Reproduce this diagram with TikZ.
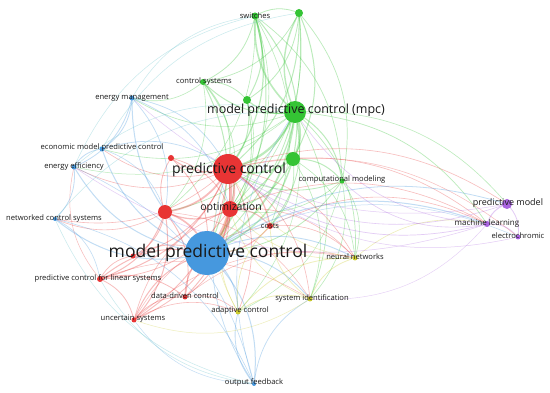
\documentclass[tikz,border=0pt]{standalone}
\usepackage{fontspec}
\setmainfont{Open Sans}
\usetikzlibrary{backgrounds}
\definecolor{cred}{RGB}{232,52,52}
\definecolor{cgreen}{RGB}{52,196,52}
\definecolor{cblue}{RGB}{70,152,222}
\definecolor{cyel}{RGB}{205,205,50}
\definecolor{cpur}{RGB}{170,100,225}
\definecolor{cteal}{RGB}{90,190,200}
\definecolor{ctext}{RGB}{25,25,25}
\begin{document}
\begin{tikzpicture}[x=1pt,y=-1pt,
  bub/.style={circle,inner sep=0pt,draw=none,minimum size=#1pt},
  tlab/.style={inner sep=0pt,text=ctext,font=\fontsize{#1}{#1}\selectfont},
  edg/.style={line width=0.7pt,opacity=0.33}]
\useasboundingbox (0,0) rectangle (550,393);
% nodes
\node[bub=44,fill=cblue] (mpcB) at (207,253) {};
\node[bub=30,fill=cred] (pc) at (228,169) {};
\node[bub=22,fill=cgreen] (mpcG) at (295,112) {};
\node[bub=14,fill=cgreen] (g2) at (293,159) {};
\node[bub=8,fill=cgreen] (g3) at (247,100) {};
\node[bub=7,fill=cgreen] (sw) at (255,16) {};
\node[bub=8,fill=cgreen] (g4) at (299,13) {};
\node[bub=6,fill=cgreen] (cs) at (203,82) {};
\node[bub=5,fill=cblue] (em) at (132,98) {};
\node[bub=5,fill=cblue] (empc) at (102,149) {};
\node[bub=5,fill=cblue] (ee) at (74,167) {};
\node[bub=6,fill=cred] (r1) at (171,158) {};
\node[bub=5,fill=cgreen] (cm) at (342,181) {};
\node[bub=16,fill=cred] (opt) at (230,209) {};
\node[bub=14,fill=cred] (r2) at (165,212) {};
\node[bub=6,fill=cred] (costs) at (270,226) {};
\node[bub=4,fill=cblue] (ncs) at (55,219) {};
\node[bub=6,fill=cred] (pcls) at (100,279) {};
\node[bub=5,fill=cred] (r3) at (133,256) {};
\node[bub=5,fill=cred] (ddc) at (185,297) {};
\node[bub=5,fill=cred] (us) at (134,320) {};
\node[bub=5,fill=cyel] (ac) at (238,312) {};
\node[bub=4,fill=cblue] (of) at (254,384) {};
\node[bub=5,fill=cyel] (si) at (310,299) {};
\node[bub=5,fill=cyel] (nn) at (355,258) {};
\node[bub=10,fill=cpur] (pm) at (507,204) {};
\node[bub=6,fill=cpur] (ml) at (487,224) {};
\node[bub=5,fill=cpur] (ec) at (518,237) {};
% edges
\begin{pgfonlayer}{background}
\fill[white] (0,0) rectangle (550,393);
\foreach \s/\t/\c/\w in {
 mpcG/sw/cgreen/1.6, mpcG/g4/cgreen/1.4, mpcG/cs/cgreen/1, mpcG/g3/cgreen/1.2, mpcG/g2/cgreen/2,
 mpcG/cm/cgreen/1, mpcG/pc/cgreen/2.2, mpcG/mpcB/cgreen/1.8, mpcG/opt/cgreen/1.2, mpcG/costs/cgreen/0.8,
 mpcG/nn/cgreen/0.7, mpcG/si/cgreen/0.7, mpcG/ml/cgreen/0.7, mpcG/pm/cgreen/0.6, mpcG/em/cgreen/0.6,
 mpcG/empc/cgreen/0.6, mpcG/ee/cgreen/0.5, mpcG/r2/cgreen/0.7, mpcG/ac/cgreen/0.5,
 sw/g4/cgreen/0.8, sw/cs/cgreen/0.8, sw/g3/cgreen/1, sw/g2/cgreen/1, sw/pc/cgreen/1.2,
 sw/cm/cgreen/0.7, sw/mpcB/cgreen/1, sw/costs/cgreen/0.6, sw/opt/cgreen/0.6, sw/r2/cgreen/0.6,
 g4/g3/cgreen/0.8, g4/g2/cgreen/1, g4/cm/cgreen/0.7, g4/cs/cgreen/0.7, g4/pc/cgreen/1, g4/mpcB/cgreen/0.8, g4/opt/cgreen/0.6,
 g2/pc/cgreen/1.6, g2/cm/cgreen/1, g2/mpcB/cgreen/1.4, g2/opt/cgreen/1, g2/costs/cgreen/0.8, g2/si/cgreen/0.6, g2/nn/cgreen/0.6,
 cs/pc/cgreen/1, cs/mpcB/cgreen/1, cs/g3/cgreen/0.8, cs/em/cgreen/0.6, cs/opt/cgreen/0.6, cs/r2/cgreen/0.6,
 g3/pc/cgreen/1, g3/mpcB/cgreen/0.8, g3/opt/cgreen/0.6,
 cm/mpcB/cgreen/0.8, cm/nn/cgreen/0.6, cm/si/cgreen/0.6, cm/opt/cgreen/0.6, cm/pc/cgreen/0.8, cm/ac/cgreen/0.5,
 pc/mpcB/cred/3, pc/opt/cred/2, pc/r2/cred/1.8, pc/r1/cred/1, pc/costs/cred/1.2, pc/pcls/cred/1,
 pc/r3/cred/0.8, pc/ddc/cred/0.9, pc/us/cred/0.9, pc/ac/cred/0.7, pc/empc/cred/0.6, pc/ee/cred/0.6,
 pc/ncs/cred/0.6, pc/nn/cred/0.6, pc/si/cred/0.6, pc/ml/cred/0.6, pc/pm/cred/0.6, pc/ec/cred/0.5,
 opt/mpcB/cred/2, opt/r2/cred/1.2, opt/costs/cred/1, opt/ddc/cred/0.8, opt/us/cred/0.8, opt/nn/cred/0.6, opt/ml/cred/0.6, opt/pcls/cred/0.7,
 r2/mpcB/cred/1.6, r2/pcls/cred/1, r2/us/cred/1, r2/ddc/cred/0.9, r2/r3/cred/0.8, r2/ncs/cred/0.6, r2/r1/cred/0.8,
 pcls/us/cred/0.8, pcls/ddc/cred/0.8, pcls/mpcB/cred/1, pcls/r3/cred/0.7, pcls/ee/cred/0.5,
 us/ddc/cred/0.8, us/mpcB/cred/1, us/ac/cred/0.6, us/costs/cred/0.5, ddc/mpcB/cred/1, ddc/ac/cred/0.6,
 r1/mpcB/cred/0.8, r1/opt/cred/0.7, r3/mpcB/cred/0.8, costs/mpcB/cred/1, costs/nn/cred/0.6, costs/ml/cred/0.6,
 us/nn/cred/0.5, pcls/si/cred/0.5, ddc/nn/cred/0.5, r2/si/cred/0.5, us/opt/cred/0.6,
 mpcB/em/cblue/1, mpcB/empc/cblue/1, mpcB/ee/cblue/1, mpcB/ncs/cblue/1, mpcB/of/cblue/1, mpcB/ac/cblue/0.9,
 mpcB/si/cblue/0.9, mpcB/nn/cblue/0.9, mpcB/ml/cblue/1, mpcB/pm/cblue/0.8, mpcB/ec/cblue/0.5,
 em/empc/cblue/0.8, em/ee/cblue/0.8, em/pc/cblue/0.7, em/r2/cblue/0.7, em/opt/cblue/0.7,
 ee/empc/cblue/0.8, ee/ncs/cblue/0.8, ee/of/cblue/0.6, empc/pc/cblue/0.7, empc/r2/cblue/0.6,
 ncs/of/cblue/0.6, ncs/pcls/cblue/0.6, of/ac/cblue/0.8, of/si/cblue/0.7, of/pc/cblue/0.7, of/mpcG/cblue/0.6, of/us/cblue/0.5,
 em/sw/cteal/0.5, ee/sw/cteal/0.5, empc/g4/cteal/0.5, ncs/mpcG/cteal/0.5, ee/mpcG/cteal/0.5, of/pcls/cteal/0.5, of/ncs/cteal/0.5,
 ac/si/cyel/0.8, ac/nn/cyel/0.8, ac/opt/cyel/0.7, ac/costs/cyel/0.7, si/nn/cyel/0.8, si/costs/cyel/0.7, si/opt/cyel/0.6,
 nn/ml/cyel/0.6, nn/opt/cyel/0.6, si/us/cyel/0.5, ac/pc/cyel/0.5, nn/pc/cyel/0.5,
 ml/pm/cpur/1, ml/ec/cpur/0.8, ml/pc/cpur/0.7, ml/mpcG/cpur/0.6, ml/cm/cpur/0.6, pm/ec/cpur/0.8, pm/pc/cpur/0.6, ec/pc/cpur/0.5, ml/ee/cpur/0.5, pm/em/cpur/0.5, ml/si/cpur/0.4
}
 \draw[edg,draw=\c,line width=\w pt] (\s.center) to[bend left=26] (\t.center);
\end{pgfonlayer}
% labels
\node[tlab=17.5] (lmpcB) at (208,253) {model predictive control};
\node[tlab=14] (lpc) at (229,170) {predictive control};
\node[tlab=12.5] (lmpcG) at (296,110) {model predictive control (mpc)};
\node[tlab=10.5] (lopt) at (231,208) {optimization};
\node[tlab=7.6] (lcosts) at (270,226) {costs};
\node[tlab=7.6] (lsw) at (255,16) {switches};
\node[tlab=7.6] (lcs) at (204,82) {control systems};
\node[tlab=7.6] (lem) at (132,98) {energy management};
\node[tlab=7.6] (lempc) at (102,148) {economic model predictive control};
\node[tlab=7.6] (lee) at (74,167) {energy efficiency};
\node[tlab=7.6] (lcm) at (342,180) {computational modeling};
\node[tlab=7.6] (lncs) at (54,219) {networked control systems};
\node[tlab=7.6] (lpcls) at (98,279) {predictive control for linear systems};
\node[tlab=7.6] (lddc) at (185,296) {data-driven control};
\node[tlab=7.6] (lus) at (133,319) {uncertain systems};
\node[tlab=7.6] (lac) at (240,311) {adaptive control};
\node[tlab=7.6] (lof) at (254,383) {output feedback};
\node[tlab=7.6] (lsi) at (312,299) {system identification};
\node[tlab=7.6] (lnn) at (355,257) {neural networks};
\node[tlab=9] (lpm) at (508,203) {predictive model};
\node[tlab=8] (lml) at (487,223) {machine learning};
\node[tlab=7.6] (lec) at (518,236) {electrochromic};
\end{tikzpicture}
\end{document}
